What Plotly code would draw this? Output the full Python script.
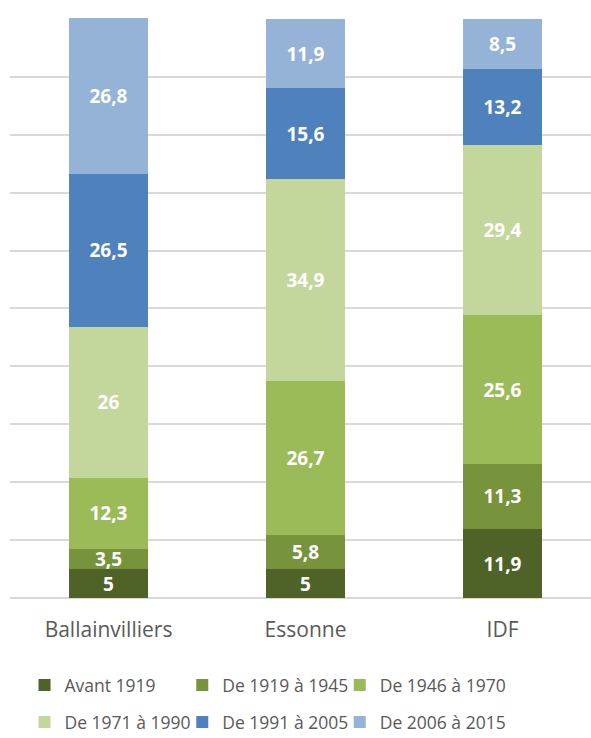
import plotly.graph_objects as go

# Share of dwellings by construction period (%)
categories = ["Ballainvilliers", "Essonne", "IDF"]
periods = ["Avant 1919", "De 1919 à 1945", "De 1946 à 1970",
           "De 1971 à 1990", "De 1991 à 2005", "De 2006 à 2015"]
values = {
    "Avant 1919":     [5, 5, 11.9],
    "De 1919 à 1945": [3.5, 5.8, 11.3],
    "De 1946 à 1970": [12.3, 26.7, 25.6],
    "De 1971 à 1990": [26, 34.9, 29.4],
    "De 1991 à 2005": [26.5, 15.6, 13.2],
    "De 2006 à 2015": [26.8, 11.9, 8.5],
}
colors = ["#4F6228", "#77933C", "#9BBB59", "#C3D69B", "#4F81BD", "#95B3D7"]

FONT = "Open Sans"
GREY = "#595959"

# legend grid: 3 columns x 2 rows, one legend box per entry
legend_cols = [0.025, 0.2965, 0.5675]
legend_rows = [-0.150, -0.214]


def fr(v):
    s = f"{v:g}"
    return s.replace(".", ",")


fig = go.Figure()
layout_legends = {}
for i, (name, col) in enumerate(zip(periods, colors)):
    vals = values[name]
    key = "legend" if i == 0 else f"legend{i + 1}"
    fig.add_trace(go.Bar(
        name=name,
        x=categories,
        y=vals,
        marker=dict(color=col, line=dict(width=0)),
        width=0.4,
        text=[fr(v) for v in vals],
        textposition="inside",
        insidetextanchor="middle",
        textangle=0,
        constraintext="none",
        textfont=dict(family=FONT, size=19, color="white", weight="bold"),
        cliponaxis=False,
        legend=key,
    ))
    layout_legends[key] = dict(
        orientation="h",
        font=dict(family=FONT, size=17.5, color=GREY),
        x=legend_cols[i % 3],
        y=legend_rows[i // 3],
        xanchor="left",
        yanchor="middle",
        bgcolor="rgba(0,0,0,0)",
    )

fig.update_layout(
    width=591,
    height=738,
    barmode="stack",
    bargap=0.6,
    plot_bgcolor="white",
    paper_bgcolor="white",
    margin=dict(l=10, r=0, t=18, b=140, autoexpand=False),
    showlegend=True,
    xaxis=dict(
        range=[-0.5, 2.449],
        showline=False,
        ticks="outside",
        ticklen=13,
        tickcolor="rgba(0,0,0,0)",
        tickfont=dict(family=FONT, size=21, color=GREY),
    ),
    yaxis=dict(
        range=[0, 100.15],
        dtick=10,
        showgrid=True,
        gridcolor="#D9D9D9",
        gridwidth=1.5,
        zeroline=True,
        zerolinecolor="#D9D9D9",
        zerolinewidth=1.5,
        showticklabels=False,
        ticks="",
    ),
    **layout_legends,
)

fig.write_html("out.html")
